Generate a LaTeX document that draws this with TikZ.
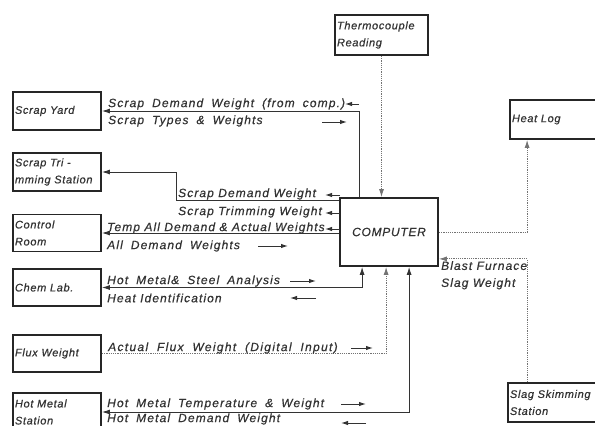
\documentclass[tikz,border=0pt]{standalone}
\usepackage{fontspec}
\setmainfont{Liberation Sans}
\newfontfamily\lblfont[LetterSpace=9.5,FakeBold=0.6,WordSpace=1.8]{Liberation Sans}
\newfontfamily\lblfonttight[LetterSpace=9,FakeBold=0.6]{Liberation Sans}
\newfontfamily\lblfontwide[LetterSpace=11,FakeBold=0.6,WordSpace=1.9]{Liberation Sans}
\newfontfamily\boxfont[LetterSpace=6,FakeBold=0.6]{Liberation Sans}
\usetikzlibrary{arrows.meta,calc}
\begin{document}
\begin{tikzpicture}[x=1pt,y=-1pt,
  box/.style={draw=black!85, line width=1.8pt, rectangle, inner sep=2pt, align=left,
    minimum width=88pt, text width=84pt,
    font=\boxfont\itshape\fontsize{11}{17}\selectfont, text=black!80},
  lbl/.style={anchor=west, inner sep=0pt, font=\lblfont\itshape\fontsize{12}{17}\selectfont, text=black!80},
  lbltight/.style={lbl, font=\lblfonttight\itshape\fontsize{12}{17}\selectfont},
  lblwide/.style={lbl, font=\lblfontwide\itshape\fontsize{12}{17}\selectfont},
  conn/.style={draw=black!80, line width=0.9pt},
  dconn/.style={draw=black!55, line width=0.9pt, dash pattern=on 1.2pt off 1pt},
  tip/.style={-{Latex[length=8pt,width=5pt]}},
  tips/.style={{Latex[length=8pt,width=5pt]}-{Latex[length=8pt,width=5pt]}},
  larr/.style={draw=black!80, line width=1pt, -{Latex[length=7pt,width=4.5pt]}},
]
\useasboundingbox (0,0) rectangle (595,426);
\clip (0,0) rectangle (595,426);

% boxes
\node[box, minimum height=38pt] (sy) at (57,111) {Scrap Yard};
\node[box, minimum height=38pt] (st) at (57,172) {Scrap Tri -\\mming Station};
\node[box, minimum height=37pt] (cr) at (57,233) {Control\\Room};
\node[box, minimum height=37pt] (cl) at (57,287.5) {Chem Lab.};
\node[box, minimum height=37pt] (fw) at (57,353.5) {Flux Weight};
\node[box, minimum height=38pt] (hm) at (57,412) {Hot Metal\\Station};
\node[box, minimum width=93pt, text width=89pt, minimum height=40pt] (tc) at (381.5,35) {Thermocouple\\ Reading};
\node[box, minimum width=98pt, text width={}, minimum height=68pt, align=center,
  font=\boxfont\itshape\fontsize{12}{14}\selectfont] (comp) at (389,232) {COMPUTER};
\node[box, minimum height=39pt] (hl) at (554,119.5) {Heat Log};
\node[box, minimum width=90pt, text width=86pt, minimum height=39pt] (ss) at (553,402.5) {Slag Skimming\\Station};

% connectors
\draw[conn, tip] ($(comp.north west)+(20,0)$) |- (sy.east);
\draw[conn, tip] ($(comp.north west)+(0,3)$) -| ($(st.east)+(75,0)$) -- (st.east);
\draw[conn, tip] (comp.west |- cr.east) -- (cr.east);
\draw[conn, tips] (cl.east) -| ($(comp.south west)+(23,0)$);
\draw[dconn, tip] (fw.east) -| ($(comp.south west)+(47,0)$);
\draw[conn, tips] (hm.east) -| ($(comp.south west)+(70,0)$);
\draw[dconn, tip] (tc.south) -- (tc.south |- comp.north);
\draw[dconn, tip] (comp.east) -| ($(hl.south west)+(18,0)$);
\draw[dconn, tip] ($(ss.north west)+(20,0)$) |- ($(comp.south east)+(0,-8)$);

% labels
\node[lbl] (l1) at (108,104) {Scrap Demand Weight (from comp.)};
\node[lbl] (l2) at (108,121) {Scrap Types \& Weights};
\node[lbltight] (l3) at (178,194) {Scrap Demand Weight};
\node[lbltight] (l4) at (178,212) {Scrap Trimming Weight};
\node[lbltight] (l5) at (107,228) {Temp All Demand \& Actual Weights};
\node[lbl] (l6) at (107,246) {All Demand Weights};
\node[lbl] (l7) at (107,281) {Hot Metal\& Steel Analysis};
\node[lbltight] (l8) at (107,298) {Heat Identification};
\node[lblwide] (l9) at (108,348) {Actual Flux Weight (Digital Input)};
\node[lbl] (l10) at (107,404) {Hot Metal Temperature \& Weight};
\node[lbl] (l11) at (107,419) {Hot Metal Demand Weight};
\node[lbltight, anchor=north west, align=left] (l12) at (441,261) {Blast Furnace\\Slag Weight};

% label arrows
\draw[larr] (359,104) -- (345,104);
\draw[larr] (322,122) -- (347,122);
\draw[larr] (340,195) -- (325,195);
\draw[larr] (340,213) -- (325,213);
\draw[larr] (340,229) -- (325,229);
\draw[larr] (258,246) -- (288,246);
\draw[larr] (290,281) -- (316,281);
\draw[larr] (316,298) -- (290,298);
\draw[larr] (351,348) -- (373,348);
\draw[larr] (341,404) -- (366,404);
\draw[larr] (366,423) -- (341,423);
\end{tikzpicture}
\end{document}
